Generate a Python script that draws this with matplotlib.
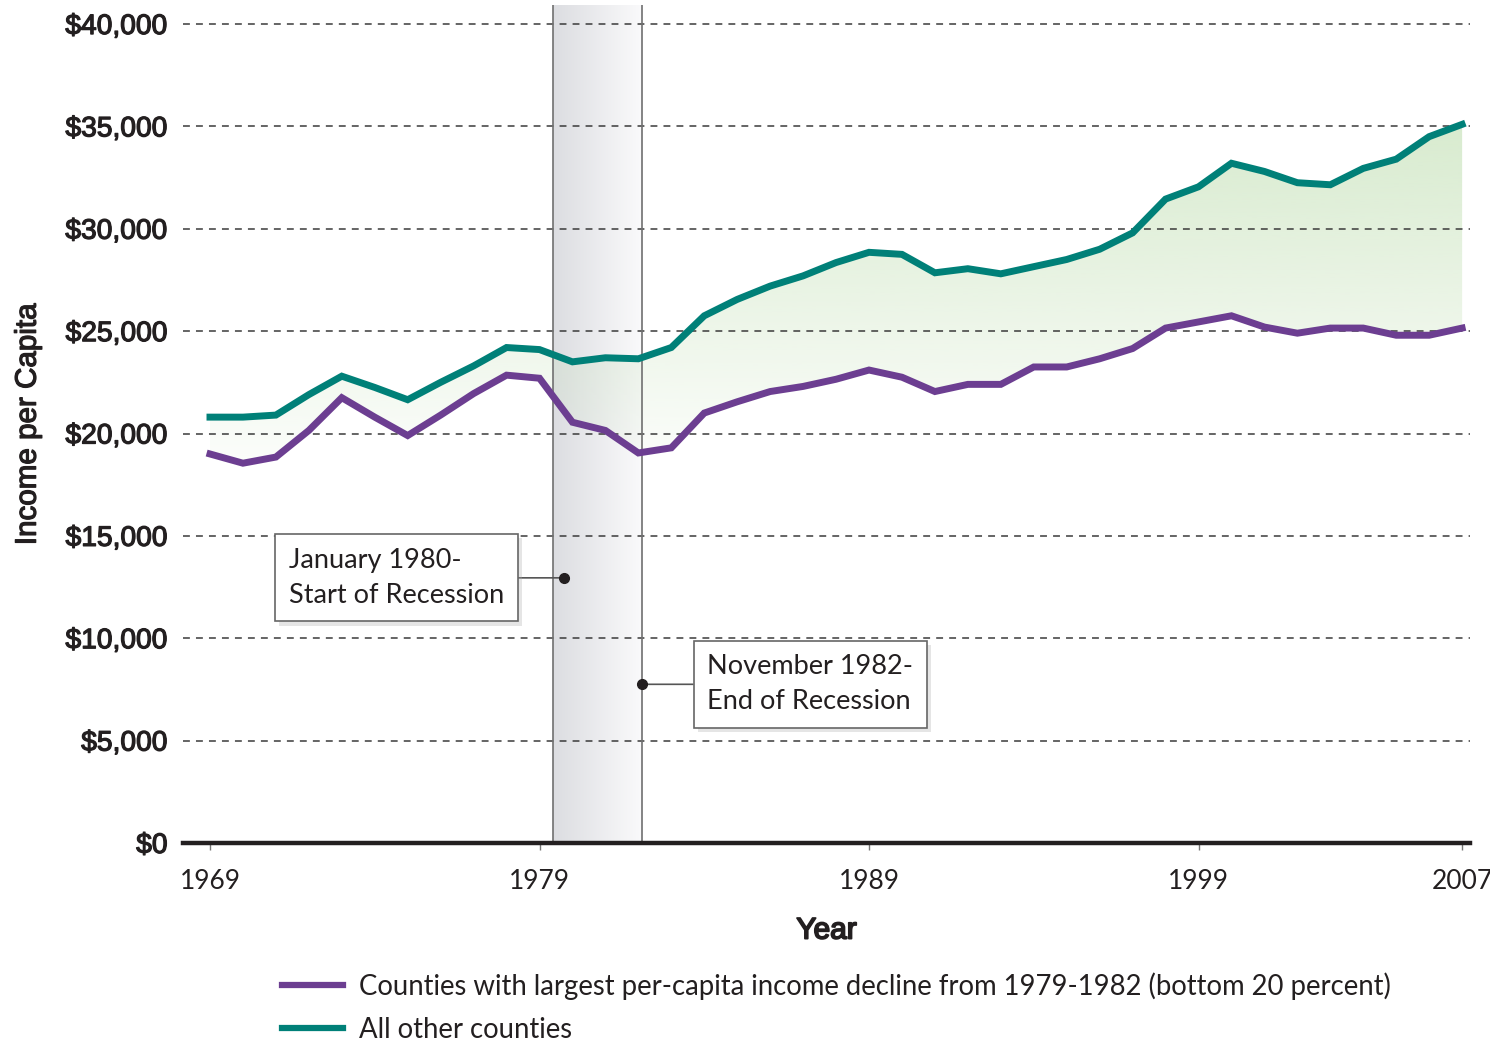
import numpy as np
import matplotlib
matplotlib.use("Agg")
import matplotlib.pyplot as plt
import matplotlib.patheffects as pe
from matplotlib.lines import Line2D
from matplotlib.patches import PathPatch
from matplotlib.colors import LinearSegmentedColormap, to_rgb

# per-capita income
years = list(range(1969, 2008))
bottom_20 = [19000, 18550, 18850, 20150, 21750, 20800, 19900, 20900, 21950, 22850,
             22700, 20550, 20150, 19050, 19300, 21000, 21550, 22050, 22300, 22650,
             23100, 22750, 22050, 22400, 22400, 23250, 23250, 23650, 24150, 25150,
             25450, 25750, 25200, 24900, 25150, 25150, 24800, 24800, 25150]
all_other = [20800, 20800, 20900, 21900, 22800, 22250, 21650, 22500, 23300, 24200,
             24100, 23500, 23700, 23650, 24200, 25750, 26550, 27200, 27700, 28350,
             28850, 28750, 27850, 28050, 27800, 28150, 28500, 29000, 29800, 31450,
             32050, 33200, 32800, 32250, 32150, 32950, 33400, 34500, 35100]

recession_start = 1979.4
recession_end = 1982.1

x_ticks = [1969, 1979, 1989, 1999, 2007]
y_ticks = [0, 5000, 10000, 15000, 20000, 25000, 30000, 35000, 40000]
y_labels = ["$0", "$5,000", "$10,000", "$15,000", "$20,000",
            "$25,000", "$30,000", "$35,000", "$40,000"]

legend_labels = ["Counties with largest per-capita income decline from 1979-1982 (bottom 20 percent)",
                 "All other counties"]

PURPLE = "#6c3e91"
TEAL = "#008078"
DARK = "#231f20"
SANS = "Liberation Sans"
HUMAN = "Lato"
# regular Arial-like text looks a touch heavier in the original
heavy = [pe.withStroke(linewidth=0.9, foreground=DARK)]

fig = plt.figure(figsize=(14.9, 10.42), dpi=100)
ax = fig.add_axes([0.1228, 0.191, 0.8638, 0.8042])
top = 40930

# recession band with a soft horizontal gradient
band = np.linspace(0, 1, 256).reshape(1, -1)
band_cmap = LinearSegmentedColormap.from_list("band", ["#dcdde1", "#fafafb"])
ax.imshow(band, cmap=band_cmap, extent=[recession_start, recession_end, 0, top],
          aspect="auto", zorder=0)
for xv in (recession_start, recession_end):
    ax.axvline(xv, color="#707070", lw=1.2, zorder=2)

# gap between the two series, green gradient clipped to the area
poly = ax.fill_between(years, bottom_20, all_other, facecolor="none", edgecolor="none")
clip = PathPatch(poly.get_paths()[0], transform=ax.transData, facecolor="none", edgecolor="none")
ax.add_patch(clip)
rgba = np.zeros((256, 1, 4))
rgba[..., :3] = to_rgb("#cce5c0")
rgba[..., 3] = np.linspace(0, 0.8, 256).reshape(-1, 1)
grad = ax.imshow(rgba, extent=[1969, 2007, 17000, 36000], origin="lower",
                 aspect="auto", zorder=1)
grad.set_clip_path(clip)

ax.plot(years, bottom_20, color=PURPLE, lw=5, zorder=3, solid_joinstyle="miter")
ax.plot(years, all_other, color=TEAL, lw=5, zorder=3, solid_joinstyle="miter")

ax.set_xlim(1968.18, 2007.24)
ax.set_ylim(0, top)

ax.set_axisbelow("line")
ax.yaxis.grid(True, color="#3a3a3a", lw=1.1, ls=(0, (4.5, 4)))
for s in ("top", "left", "right"):
    ax.spines[s].set_visible(False)
ax.spines["bottom"].set_linewidth(3.2)
ax.spines["bottom"].set_color(DARK)
ax.spines["bottom"].set_zorder(4)

ax.set_xticks(x_ticks)
ax.set_xticklabels([str(x) for x in x_ticks], family=HUMAN, fontsize=19, color=DARK)
ax.set_yticks(y_ticks)
ax.set_yticklabels(y_labels, family=SANS, fontsize=20.3, color=DARK)
for lab in ax.get_yticklabels():
    lab.set_path_effects(heavy)
ax.tick_params(axis="x", length=5, width=1, color="#777777", pad=14)
ax.tick_params(axis="y", length=0, pad=11)

ax.set_xlabel("Year", family=SANS, fontsize=21.5, color=DARK, labelpad=16,
              path_effects=[pe.withStroke(linewidth=1.3, foreground=DARK)])
ax.set_ylabel("Income per Capita", family=SANS, fontsize=21.3, color=DARK, labelpad=17,
              path_effects=heavy)

# recession annotations
notes = [("January 1980-\nStart of Recession", (1979.75, 12950), 1974.66),
         ("November 1982-\nEnd of Recession", (1982.1, 7750), 1987.21)]
for text, dot, tx in notes:
    ann = ax.annotate(text, xy=dot, xytext=(tx, dot[1]), ha="center", va="center", ma="left",
                      family=HUMAN, fontsize=19.5, color=DARK, linespacing=1.5,
                      bbox=dict(boxstyle="square,pad=0.5", fc="white", ec="#666666", lw=1.2),
                      arrowprops=dict(arrowstyle="-", color="#555555", lw=1.2,
                                      shrinkA=0, shrinkB=0),
                      zorder=5)
    ann.get_bbox_patch().set_path_effects(
        [pe.SimplePatchShadow(offset=(3, -3), shadow_rgbFace="#aaaaaa", alpha=0.3), pe.Normal()])
    ax.plot(*dot, "o", color=DARK, ms=7, zorder=6)

handles = [Line2D([], [], color=PURPLE, lw=4.5), Line2D([], [], color=TEAL, lw=4.5)]
fig.legend(handles, legend_labels, loc="upper left", bbox_to_anchor=(0.1893, 0.0672),
           frameon=False, prop={"family": HUMAN, "size": 19.8}, handlelength=2.2,
           handletextpad=0.6, labelspacing=0.62, borderpad=0, borderaxespad=0,
           labelcolor=DARK)

fig.savefig("out.png", dpi=100)
